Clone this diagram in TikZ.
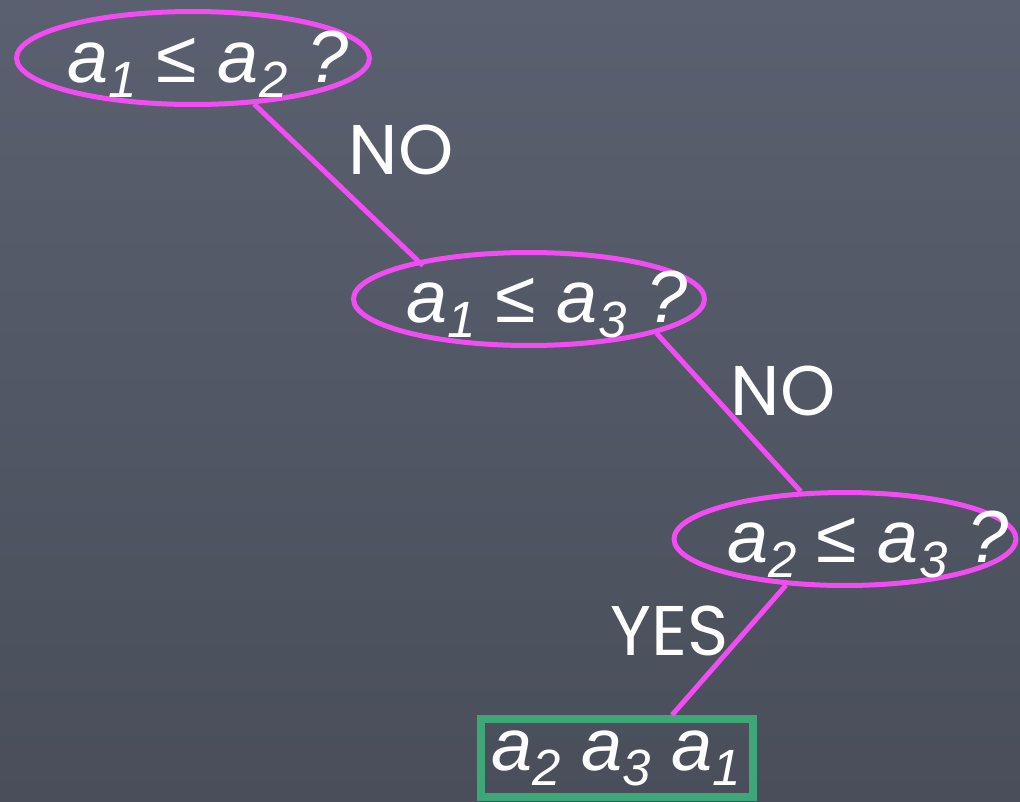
\documentclass[tikz,border=0pt]{standalone}
\usepackage{fontspec}
\setmainfont{Liberation Sans}
\newfontfamily\chalkfont{Poppins}
\usetikzlibrary{shapes.geometric}

\definecolor{boardlight}{HTML}{5A606F}
\definecolor{boarddark}{HTML}{494E5A}
\definecolor{chalkpink}{HTML}{F24DF2}
\definecolor{chalkgreen}{HTML}{3DA778}

% lowered index digit
\newcommand{\ix}[1]{\raisebox{-9pt}{\fontsize{29}{31}\selectfont #1}}

\begin{document}
\begin{tikzpicture}[x=0.02cm, y=-0.02cm,
    test/.style={ellipse, draw=chalkpink, line width=0.1cm, inner sep=0pt,
        minimum height=1.86cm},
    qtext/.style={anchor=base, text=white, inner sep=0pt,
        font=\fontsize{42}{48}\selectfont\itshape},
    answer/.style={text=white, inner sep=0pt,
        font=\fontsize{40}{46}\selectfont\chalkfont},
    edge/.style={draw=chalkpink, line width=0.1cm}
]

\shade [top color=boardlight, bottom color=boarddark] (0,0) rectangle (1020,801);
\useasboundingbox (0,0) rectangle (1020,801);

% the three comparisons
\node (q1) [test, minimum width=7.06cm] at (193,58) {};
\node (q1txt) [qtext] at (208,82) {a\ix{1} ≤ a\ix{2} ?};

\node (q2) [test, minimum width=7.02cm] at (529,299) {};
\node (q2txt) [qtext] at (547,322) {a\ix{1} ≤ a\ix{3} ?};

\node (q3) [test, minimum width=6.84cm] at (845,539) {};
\node (q3txt) [qtext] at (868,562) {a\ix{2} ≤ a\ix{3} ?};

% resulting order
\node (res) [draw=chalkgreen,
    line width=0.16cm,
    minimum width=5.46cm,
    minimum height=1.56cm,
    inner sep=0pt
] at (617,758) {};
\node (restxt) [qtext] at (616,770) {a\ix{2} a\ix{3} a\ix{1}};

\draw [edge, shorten >=-0.14cm] (q1.-37) -- (q2.161);
\draw [edge] (q2.-15) -- (q3.133);
\draw [edge] (q3.-142) -- (res.38);

\node (no1) [answer] at (401,150) {NO};
\node (no2) [answer] at (783,391) {NO};
\node (yes) [answer] at (670,631) {YES};

\end{tikzpicture}
\end{document}
